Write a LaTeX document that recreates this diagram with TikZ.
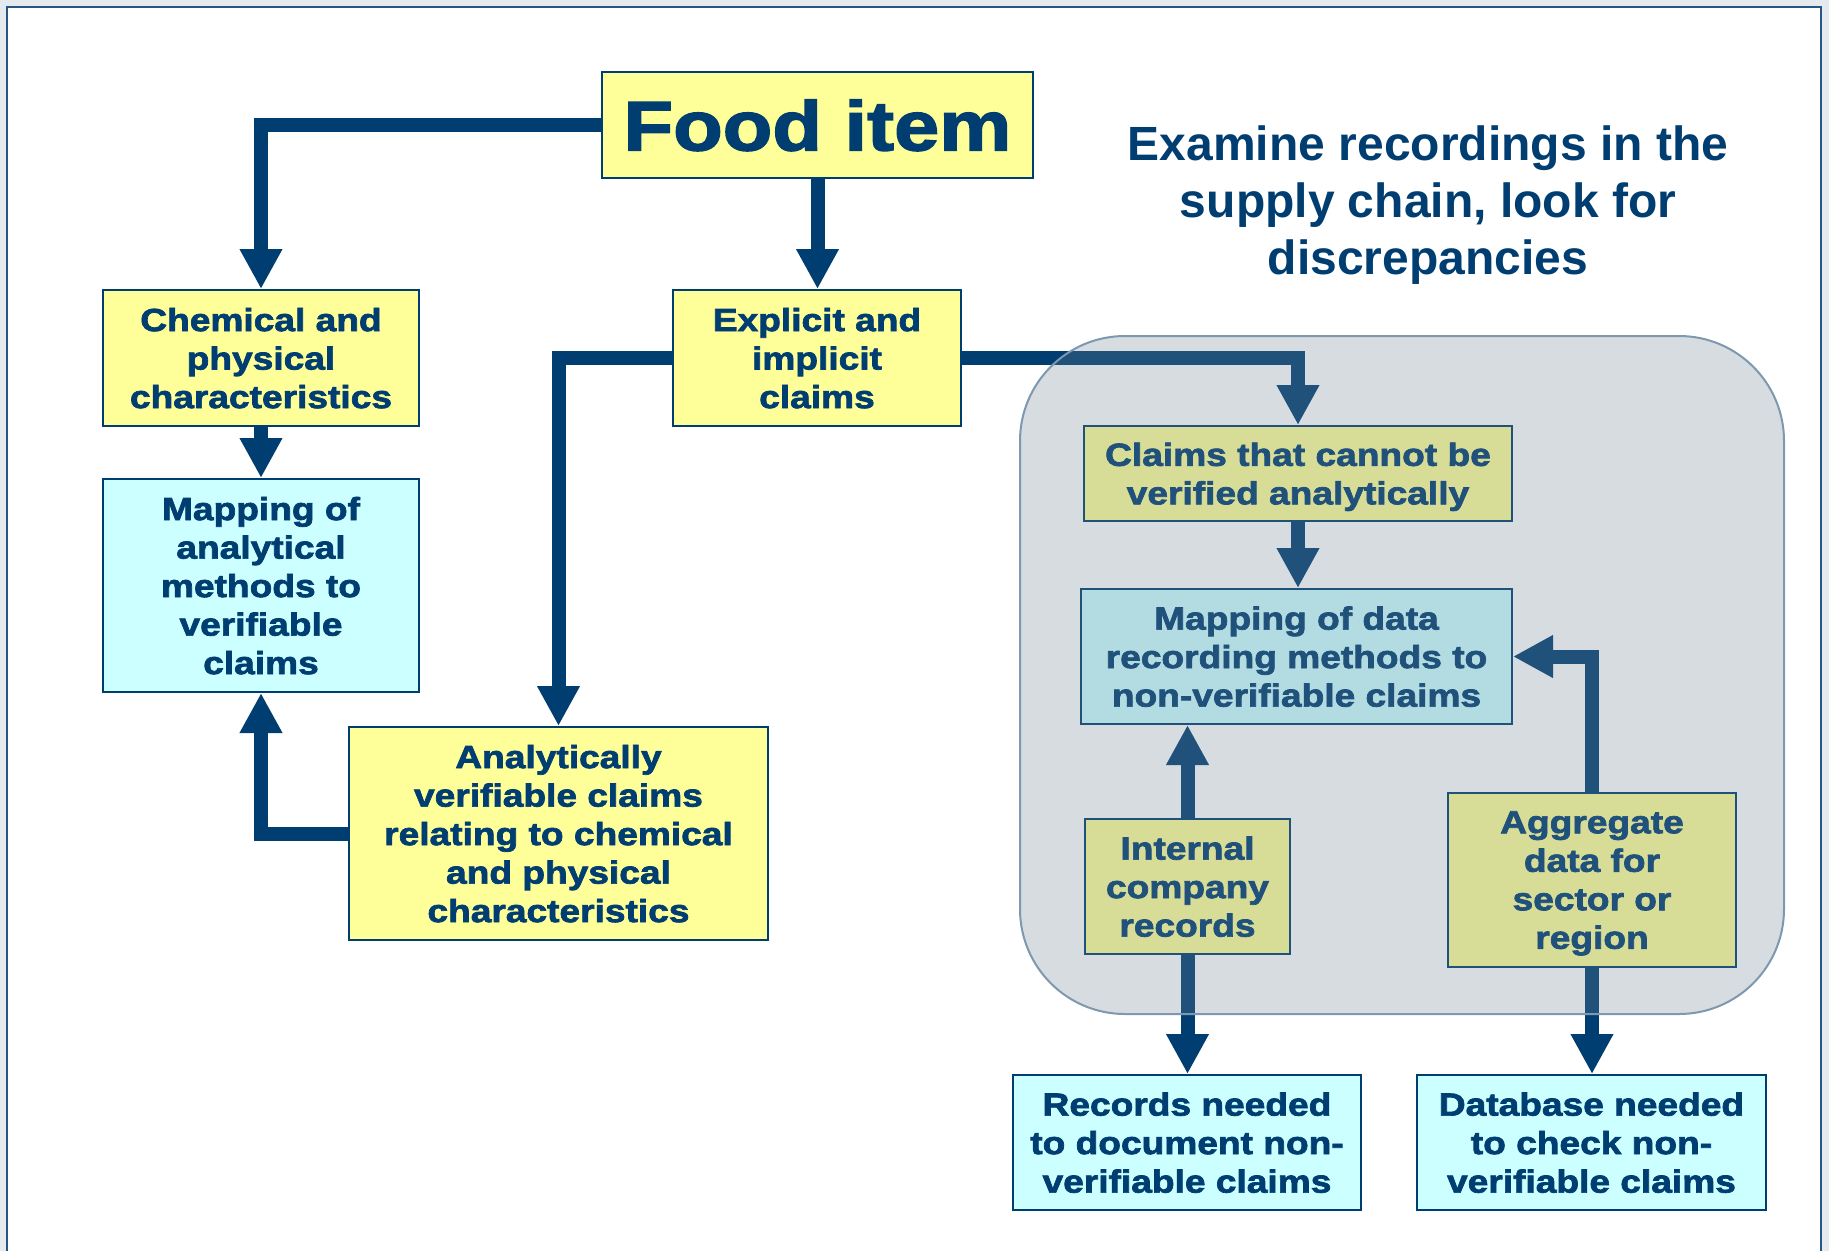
\documentclass[tikz,border=0pt]{standalone}
\usepackage{fontspec}
\usetikzlibrary{arrows.meta}
% heavy, wide face for the boxes; plain bold for the heading
\newfontfamily\boxfont{Liberation Sans Bold}[FakeStretch=1.16,FakeBold=2.2]
\newfontfamily\headfont{Liberation Sans Bold}
\definecolor{navy}{RGB}{0,62,114}
\definecolor{paleyellow}{RGB}{255,255,153}
\definecolor{palecyan}{RGB}{204,255,255}
\definecolor{slate}{RGB}{113,131,149}
\definecolor{slateedge}{RGB}{125,152,175}
\definecolor{pagegrey}{RGB}{229,234,238}
\definecolor{framecol}{RGB}{38,86,136}

\begin{document}
\begin{tikzpicture}[x=1pt,y=-1pt,
  box/.style={draw=navy, line width=2pt, text=navy, align=center, inner sep=0pt,
    text depth=0pt, font=\boxfont\fontsize{32}{38.5}\selectfont},
  ybox/.style={box, fill=paleyellow},
  cbox/.style={box, fill=palecyan},
  flow/.style={draw=navy, line width=14pt, line join=miter,
    -{Triangle[width=40pt,length=40pt]}},
  region/.style={fill=slate, fill opacity=0.28, draw=slateedge, line width=2pt,
    rounded corners=105pt}
]
% page and frame
\useasboundingbox (0,0) rectangle (1829,1251);
\fill[pagegrey] (0,0) rectangle (1829,1251);
\fill[white] (7,7) rectangle (1821,1251);
\draw[framecol, line width=2.5pt] (7,1251) -- (7,7) -- (1821,7) -- (1821,1251);

% boxes
\node[ybox, minimum width=431pt, minimum height=106pt,
      font=\boxfont\fontsize{70}{80}\selectfont] (food) at (817.5,125) {Food item};
\node[ybox, minimum width=316pt, minimum height=136pt] (chem) at (261,358)
  {Chemical and\\physical\\characteristics};
\node[cbox, minimum width=316pt, minimum height=213pt] (mapa) at (261,585.5)
  {Mapping of\\analytical\\methods to\\verifiable\\claims};
\node[ybox, minimum width=288pt, minimum height=136pt] (explicit) at (817,358)
  {Explicit and\\implicit\\claims};
\node[ybox, minimum width=419pt, minimum height=213pt] (analytic) at (558.5,833.5)
  {Analytically\\verifiable claims\\relating to chemical\\and physical\\characteristics};
\node[ybox, minimum width=428pt, minimum height=95pt] (claims) at (1298,473.5)
  {Claims that cannot be\\verified analytically};
\node[cbox, minimum width=431pt, minimum height=135pt] (mapd) at (1296.5,656.5)
  {Mapping of data\\recording methods to\\non-verifiable claims};
\node[ybox, minimum width=205pt, minimum height=135pt] (internal) at (1187.5,886.5)
  {Internal\\company\\records};
\node[ybox, minimum width=288pt, minimum height=174pt] (aggregate) at (1592,880)
  {Aggregate\\data for\\sector or\\region};
\node[cbox, minimum width=348pt, minimum height=135pt] (records) at (1187,1142.5)
  {Records needed\\to document non-\\verifiable claims};
\node[cbox, minimum width=349pt, minimum height=135pt] (database) at (1591.5,1142.5)
  {Database needed\\to check non-\\verifiable claims};

% connectors
\draw[flow] (food.west) -| (chem.north);
\draw[flow] (food.south) -- (food.south |- explicit.north);
\draw[flow] (chem.south) -- (mapa.north);
\draw[flow] (explicit.west) -| (analytic.north);
\draw[flow] (explicit.east) -| (claims.north);
\draw[flow] (analytic.west) -| (mapa.south);
\draw[flow] (claims.south) -- (claims.south |- mapd.north);
\draw[flow] (internal.north) -- (internal.north |- mapd.south);
\draw[flow] (aggregate.north) |- (mapd.east);
\draw[flow] (internal.south) -- (internal.south |- records.north);
\draw[flow] (aggregate.south) -- (aggregate.south |- database.north);

% shaded record-keeping area laid over its contents
\path[region] (1020,336) rectangle (1784,1014);

% heading
\node[text=navy, align=center, text depth=0pt,
      font=\headfont\fontsize{48}{57}\selectfont]
  (heading) at (1428,200)
  {Examine recordings in the\\supply chain, look for\\discrepancies};
\end{tikzpicture}
\end{document}
